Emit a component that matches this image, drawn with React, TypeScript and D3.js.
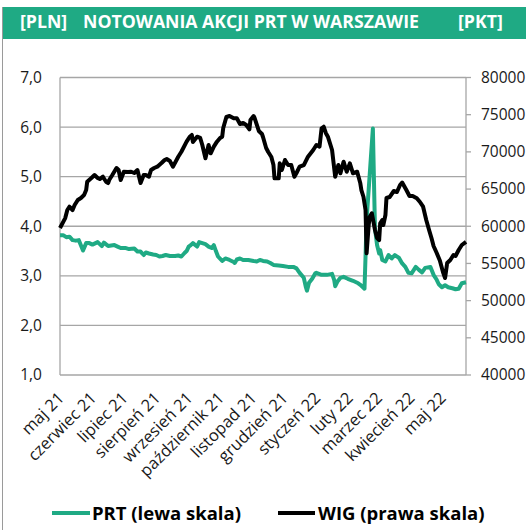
import React from "react";
import * as d3 from "d3";

// PRT share price (PLN, left scale)
const prtDates = [
  "2021-05-04", "2021-05-07", "2021-05-10", "2021-05-13", "2021-05-16", "2021-05-19", "2021-05-22", "2021-05-26",
  "2021-05-29", "2021-06-01", "2021-06-04", "2021-06-09", "2021-06-13", "2021-06-15", "2021-06-19", "2021-06-22",
  "2021-06-25", "2021-06-28", "2021-07-01", "2021-07-06", "2021-07-09", "2021-07-14", "2021-07-17", "2021-07-20",
  "2021-07-23", "2021-07-25", "2021-07-28", "2021-08-01", "2021-08-04", "2021-08-07", "2021-08-10", "2021-08-13",
  "2021-08-17", "2021-08-22", "2021-08-25", "2021-08-28", "2021-08-31", "2021-09-02", "2021-09-04", "2021-09-06",
  "2021-09-08", "2021-09-12", "2021-09-14", "2021-09-17", "2021-09-20", "2021-09-23", "2021-09-26", "2021-09-28",
  "2021-09-30", "2021-10-02", "2021-10-06", "2021-10-09", "2021-10-13", "2021-10-17", "2021-10-18", "2021-10-20",
  "2021-10-23", "2021-10-26", "2021-10-31", "2021-11-05", "2021-11-08", "2021-11-11", "2021-11-14", "2021-11-18",
  "2021-11-21", "2021-11-24", "2021-11-29", "2021-12-03", "2021-12-08", "2021-12-13", "2021-12-16", "2021-12-19",
  "2021-12-23", "2021-12-25", "2021-12-26", "2021-12-28", "2021-12-31", "2022-01-03", "2022-01-04", "2022-01-09",
  "2022-01-14", "2022-01-19", "2022-01-21", "2022-01-22", "2022-01-24", "2022-01-27", "2022-01-30", "2022-02-03",
  "2022-02-08", "2022-02-13", "2022-02-15", "2022-02-18", "2022-02-19", "2022-02-20", "2022-02-21", "2022-02-27",
  "2022-03-01", "2022-03-03", "2022-03-05", "2022-03-06", "2022-03-08", "2022-03-11", "2022-03-14", "2022-03-17",
  "2022-03-20", "2022-03-24", "2022-03-27", "2022-03-30", "2022-04-02", "2022-04-05", "2022-04-09", "2022-04-12",
  "2022-04-15", "2022-04-18", "2022-04-23", "2022-04-26", "2022-04-29", "2022-05-01", "2022-05-04", "2022-05-07",
  "2022-05-10", "2022-05-14", "2022-05-17", "2022-05-20", "2022-05-23", "2022-05-27",
];
const prtValues = [
  3.82, 3.82, 3.78, 3.79, 3.72, 3.71, 3.72, 3.51,
  3.66, 3.66, 3.63, 3.68, 3.6, 3.67, 3.6, 3.61,
  3.62, 3.59, 3.56, 3.56, 3.54, 3.55, 3.49, 3.49,
  3.42, 3.47, 3.45, 3.43, 3.42, 3.39, 3.4, 3.42,
  3.4, 3.4, 3.41, 3.39, 3.46, 3.5, 3.59, 3.62,
  3.66, 3.59, 3.68, 3.66, 3.64, 3.59, 3.56, 3.62,
  3.5, 3.39, 3.3, 3.35, 3.32, 3.28, 3.26, 3.33,
  3.35, 3.32, 3.32, 3.3, 3.29, 3.32, 3.3, 3.29,
  3.26, 3.22, 3.21, 3.2, 3.18, 3.18, 3.15, 3.06,
  2.96, 2.77, 2.7, 2.86, 2.94, 3.05, 3.06, 3.02,
  3.02, 3.04, 2.92, 2.79, 2.88, 2.96, 2.98, 2.94,
  2.9, 2.85, 2.82, 2.76, 2.74, 3.4, 4.13, 5.97,
  3.96, 3.62, 3.45, 3.52, 3.32, 3.29, 3.42, 3.35,
  3.42, 3.36, 3.25, 3.18, 3.06, 3.05, 3.18, 3.12,
  3.07, 3.16, 3.18, 3.02, 2.92, 2.83, 2.77, 2.81,
  2.77, 2.75, 2.73, 2.74, 2.85, 2.87,
];

// WIG index (points, right scale)
const wigDates = [
  "2021-05-04", "2021-05-09", "2021-05-11", "2021-05-13", "2021-05-16", "2021-05-18", "2021-05-21", "2021-05-24",
  "2021-05-27", "2021-05-29", "2021-05-30", "2021-06-03", "2021-06-06", "2021-06-09", "2021-06-11", "2021-06-14",
  "2021-06-17", "2021-06-19", "2021-06-20", "2021-06-23", "2021-06-27", "2021-06-29", "2021-07-01", "2021-07-04",
  "2021-07-08", "2021-07-11", "2021-07-14", "2021-07-17", "2021-07-20", "2021-07-23", "2021-07-25", "2021-07-28",
  "2021-07-30", "2021-08-02", "2021-08-05", "2021-08-09", "2021-08-12", "2021-08-14", "2021-08-17", "2021-08-20",
  "2021-08-25", "2021-08-28", "2021-09-02", "2021-09-05", "2021-09-07", "2021-09-08", "2021-09-12", "2021-09-15",
  "2021-09-17", "2021-09-20", "2021-09-23", "2021-09-25", "2021-09-28", "2021-10-01", "2021-10-04", "2021-10-06",
  "2021-10-07", "2021-10-10", "2021-10-13", "2021-10-17", "2021-10-20", "2021-10-23", "2021-10-26", "2021-10-29",
  "2021-11-01", "2021-11-02", "2021-11-05", "2021-11-06", "2021-11-10", "2021-11-13", "2021-11-14", "2021-11-17",
  "2021-11-19", "2021-11-22", "2021-11-24", "2021-11-25", "2021-11-29", "2021-11-30", "2021-12-02", "2021-12-05",
  "2021-12-08", "2021-12-11", "2021-12-14", "2021-12-16", "2021-12-19", "2021-12-23", "2021-12-27", "2022-01-01",
  "2022-01-04", "2022-01-07", "2022-01-09", "2022-01-11", "2022-01-13", "2022-01-15", "2022-01-19", "2022-01-22",
  "2022-01-25", "2022-01-27", "2022-01-30", "2022-02-02", "2022-02-05", "2022-02-08", "2022-02-12", "2022-02-15",
  "2022-02-16", "2022-02-18", "2022-02-20", "2022-02-21", "2022-02-23", "2022-02-24", "2022-02-26", "2022-03-01",
  "2022-03-03", "2022-03-05", "2022-03-06", "2022-03-08", "2022-03-09", "2022-03-11", "2022-03-12", "2022-03-15",
  "2022-03-19", "2022-03-22", "2022-03-25", "2022-03-27", "2022-03-31", "2022-04-03", "2022-04-06", "2022-04-10",
  "2022-04-13", "2022-04-16", "2022-04-19", "2022-04-22", "2022-04-24", "2022-04-26", "2022-04-29", "2022-05-02",
  "2022-05-05", "2022-05-07", "2022-05-09", "2022-05-12", "2022-05-15", "2022-05-17", "2022-05-20", "2022-05-23",
  "2022-05-27",
];
const wigValues = [
  59760, 61100, 62180, 62630, 62180, 62860, 63530, 63800,
  64200, 64870, 65990, 66490, 66890, 66490, 66350, 66660,
  65990, 65810, 66220, 66890, 67830, 67560, 66220, 67330,
  67290, 67330, 67160, 67560, 65810, 66890, 66890, 66660,
  67560, 67830, 68010, 68500, 68910, 69040, 68770, 68010,
  69350, 70020, 71370, 72040, 72270, 71330, 72040, 71870,
  70920, 69140, 70920, 69810, 70700, 71370, 71870, 72040,
  73210, 74690, 74820, 74510, 74510, 73750, 73880, 73610,
  73030, 74280, 74820, 74550, 72810, 72400, 72000, 70520,
  69980, 69310, 68230, 66450, 66450, 68460, 67560, 68910,
  68230, 68230, 66660, 67160, 68010, 68230, 69350, 70250,
  70920, 70700, 73170, 73380, 72540, 72040, 70250, 66660,
  68230, 67120, 68680, 67330, 68460, 67120, 67330, 65770,
  64870, 63970, 62180, 56360, 60170, 61280, 61740, 59500,
  58420, 58150, 60400, 60840, 60170, 61510, 63800, 63930,
  64740, 64600, 65550, 65880, 64870, 64070, 64070, 63760,
  63260, 62630, 60840, 59360, 58420, 57340, 56400, 55400,
  53850, 53040, 55060, 55460, 56130, 56000, 56810, 57480,
  57900,
];

const leftTicks = [1, 2, 3, 4, 5, 6, 7];
const rightTicks = [40000, 45000, 50000, 55000, 60000, 65000, 70000, 75000, 80000];
const monthDates = [
  "2021-05-04", "2021-06-04", "2021-07-04", "2021-08-04", "2021-09-04", "2021-10-04", "2021-11-04",
  "2021-12-04", "2022-01-04", "2022-02-04", "2022-03-04", "2022-04-04", "2022-05-04",
];
const monthLabels = [
  "maj 21", "czerwiec 21", "lipiec 21", "sierpień 21", "wrzesień 21", "październik 21", "listopad 21",
  "grudzień 21", "styczeń 22", "luty 22", "marzec 22", "kwiecień 22", "maj 22",
];

const W = 526;
const H = 530;
const margin = { top: 77.5, right: 60, bottom: 155, left: 60 };
const GREEN = "#1faa84";
const GRID = "#a6a6a6";
const FONT = "'Open Sans', sans-serif";

const parse = d3.timeParse("%Y-%m-%d");

export default function App() {
  const x = d3
    .scaleTime()
    .domain([parse("2021-05-04")!, parse("2022-05-27")!])
    .range([margin.left, W - margin.right]);
  const yL = d3.scaleLinear().domain([1, 7]).range([H - margin.bottom, margin.top]);
  const yR = d3.scaleLinear().domain([40000, 80000]).range([H - margin.bottom, margin.top]);

  const prt = prtDates.map((d, i) => ({ date: parse(d)!, v: prtValues[i] }));
  const wig = wigDates.map((d, i) => ({ date: parse(d)!, v: wigValues[i] }));

  const prtLine = d3
    .line<{ date: Date; v: number }>()
    .x((d) => x(d.date))
    .y((d) => yL(d.v));
  const wigLine = d3
    .line<{ date: Date; v: number }>()
    .x((d) => x(d.date))
    .y((d) => yR(d.v));

  const x0 = margin.left;
  const x1 = W - margin.right;
  const yBottom = H - margin.bottom;

  return (
    <svg
      width={W}
      height={H}
      style={{ position: "absolute", left: 0, top: 0, background: "#fff" }}
      fontFamily={FONT}
    >
      {/* frame + header */}
      <line x1={2.5} x2={2.5} y1={7} y2={H} stroke="#9a9a9a" strokeWidth={1} />
      <rect x={3} y={7} width={W - 3} height={32} fill={GREEN} />
      <g fill="#fff" fontWeight="bold" fontSize={17.7}>
        <text x={20} y={27.5}>[PLN]</text>
        <text x={83} y={27.5}>NOTOWANIA AKCJI PRT W WARSZAWIE</text>
        <text x={458} y={27.5}>[PKT]</text>
      </g>

      {/* gridlines */}
      {leftTicks.slice(1).map((t) => (
        <line key={t} x1={x0} x2={x1} y1={yL(t)} y2={yL(t)} stroke={GRID} strokeWidth={1.3} />
      ))}
      <line x1={x0} x2={x1} y1={yBottom} y2={yBottom} stroke={GRID} strokeWidth={1.3} />
      <line x1={x0} x2={x0} y1={margin.top} y2={yBottom} stroke={GRID} strokeWidth={1.3} />
      <line x1={x1} x2={x1} y1={margin.top} y2={yBottom} stroke={GRID} strokeWidth={1.3} />
      {rightTicks.map((t) => (
        <line key={t} x1={x1} x2={x1 + 5} y1={yR(t)} y2={yR(t)} stroke={GRID} strokeWidth={1.3} />
      ))}

      {/* tick labels */}
      <g fontSize={15.5} fill="#1a1a1a">
        {leftTicks.map((t) => (
          <text key={t} x={42} y={yL(t)} dy="0.35em" textAnchor="end">
            {d3.format(".1f")(t).replace(".", ",")}
          </text>
        ))}
        {rightTicks.map((t) => (
          <text key={t} x={481} y={yR(t)} dy="0.35em">
            {t}
          </text>
        ))}
      </g>
      <g fontSize={16.5} fill="#1a1a1a">
        {monthDates.map((d, i) => (
          <text
            key={d}
            transform={`translate(${x(parse(d)!) + 1},${yBottom + 20}) rotate(-45)`}
            dy="0.35em"
            textAnchor="end"
          >
            {monthLabels[i]}
          </text>
        ))}
      </g>

      {/* series: PRT first, WIG (secondary axis) on top */}
      <path d={prtLine(prt)!} fill="none" stroke={GREEN} strokeWidth={4} strokeLinejoin="round" />
      <path d={wigLine(wig)!} fill="none" stroke="#000" strokeWidth={4} strokeLinejoin="round" />

      {/* legend */}
      <g fontWeight="bold" fontSize={18.5} fill="#000">
        <line x1={52} x2={90} y1={513} y2={513} stroke={GREEN} strokeWidth={4} />
        <text x={92} y={520}>PRT (lewa skala)</text>
        <line x1={278} x2={315} y1={513} y2={513} stroke="#000" strokeWidth={4} />
        <text x={318} y={520}>WIG (prawa skala)</text>
      </g>
    </svg>
  );
}
